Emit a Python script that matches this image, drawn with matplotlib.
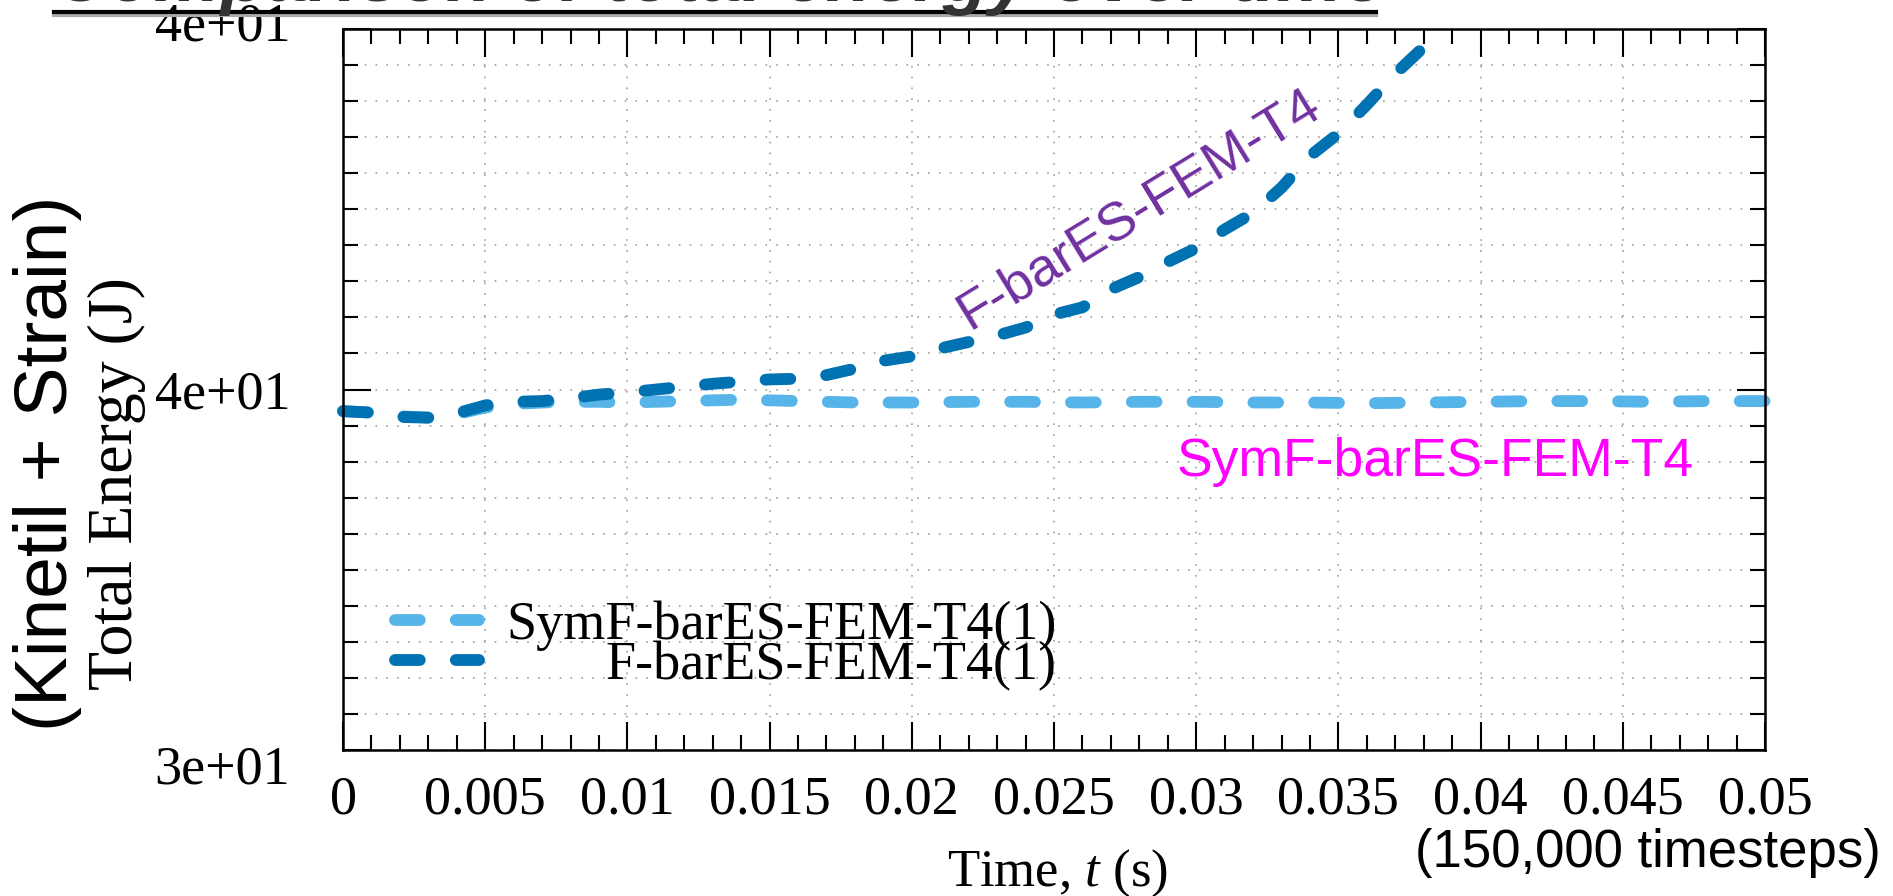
import matplotlib
matplotlib.use('Agg')
import matplotlib.pyplot as plt
import matplotlib.transforms as mtrans
from matplotlib.ticker import MultipleLocator
from matplotlib.lines import Line2D

plt.rcParams['mathtext.fontset'] = 'custom'
plt.rcParams['mathtext.rm'] = 'Liberation Serif'
plt.rcParams['mathtext.it'] = 'Liberation Serif:italic'

# data
t_sym = [0.000, 0.001, 0.002, 0.003, 0.004, 0.005, 0.006, 0.007, 0.008, 0.009,
         0.010, 0.012, 0.014, 0.016, 0.018, 0.020, 0.022, 0.024, 0.026, 0.028,
         0.030, 0.032, 0.034, 0.036, 0.038, 0.040, 0.042, 0.044, 0.046, 0.048, 0.050]
e_sym = [39.70, 39.68, 39.63, 39.61, 39.66, 39.75, 39.80, 39.82, 39.83, 39.83,
         39.82, 39.84, 39.86, 39.84, 39.82, 39.82, 39.83, 39.83, 39.82, 39.83,
         39.83, 39.82, 39.82, 39.81, 39.82, 39.83, 39.84, 39.84, 39.83, 39.84, 39.84]

t_fbar = [0.000, 0.001, 0.002, 0.003, 0.004, 0.005, 0.006, 0.007, 0.008, 0.009,
          0.010, 0.011, 0.012, 0.013, 0.014, 0.015, 0.016, 0.017, 0.018, 0.019,
          0.020, 0.021, 0.022, 0.023, 0.024, 0.025, 0.026, 0.027, 0.028, 0.029,
          0.030, 0.031, 0.032, 0.033, 0.034, 0.035, 0.036, 0.037, 0.038]
e_fbar = [39.70, 39.68, 39.62, 39.61, 39.67, 39.78, 39.83, 39.84, 39.88, 39.93,
          39.96, 40.00, 40.04, 40.08, 40.11, 40.14, 40.15, 40.20, 40.29, 40.40,
          40.46, 40.57, 40.66, 40.75, 40.86, 41.04, 41.14, 41.39, 41.56, 41.77,
          41.96, 42.22, 42.45, 42.80, 43.24, 43.55, 43.95, 44.38, 44.75]

x_ticks = [0, 0.005, 0.01, 0.015, 0.02, 0.025, 0.03, 0.035, 0.04, 0.045, 0.05]
x_tick_labels = ['0', '0.005', '0.01', '0.015', '0.02', '0.025', '0.03',
                 '0.035', '0.04', '0.045', '0.05']
y_ticks = [35, 40, 45]
y_tick_labels = ['3e+01', '4e+01', '4e+01']

labels = ['SymF-barES-FEM-T4(1)', 'F-barES-FEM-T4(1)']
colors = ['#56B4E9', '#0072B2']

serif = 'Liberation Serif'
sans = 'Liberation Sans'

fig = plt.figure(figsize=(18.93, 8.96), dpi=100)
ax = fig.add_axes([0.1812, 0.1629, 0.7512, 0.8047])

dash = (0, (2.1, 3.05))
ax.plot(t_sym, e_sym, color=colors[0], lw=8.5, linestyle=dash,
        dash_capstyle='round', label=labels[0], clip_on=False, zorder=3)
ax.plot(t_fbar, e_fbar, color=colors[1], lw=8.5, linestyle=dash,
        dash_capstyle='round', label=labels[1], clip_on=False, zorder=4)

ax.set_xlim(0, 0.05)
ax.set_ylim(35, 45)
ax.set_xticks(x_ticks)
ax.set_xticklabels(x_tick_labels, family=serif, fontsize=39)
ax.set_yticks(y_ticks)
ax.set_yticklabels(y_tick_labels, family=serif, fontsize=39)
ax.xaxis.set_minor_locator(MultipleLocator(0.001))
ax.yaxis.set_minor_locator(MultipleLocator(0.5))
ax.tick_params(which='both', direction='in', top=True, right=True, width=1.5, color='black')
ax.tick_params(which='major', length=20)
ax.tick_params(which='minor', length=11)
ax.tick_params(axis='x', which='major', pad=18)
ax.tick_params(axis='y', which='major', pad=38)
for s in ax.spines.values():
    s.set_linewidth(1.8)
    s.set_zorder(5)
# end labels sit a little outside the axis ends, like in the original
ylab = ax.get_yticklabels()
ylab[0].set_transform(ylab[0].get_transform() + mtrans.Affine2D().translate(0, -14))
ylab[-1].set_transform(ylab[-1].get_transform() + mtrans.Affine2D().translate(0, 8))

gstyle = dict(color='#a0a0a0', lw=1.2, linestyle=(0, (1, 5.5)))
ax.yaxis.grid(True, which='both', **gstyle)
ax.xaxis.grid(True, which='major', **gstyle)
ax.set_axisbelow(True)

ax.text(0.0280, 42.50, 'F-barES-FEM-T4', color='#7030A0', family=sans, fontsize=39,
        rotation=31.5, rotation_mode='anchor', ha='center', va='center')
ax.text(0.0384, 39.0, 'SymF-barES-FEM-T4', color='#FF00FF', family=sans, fontsize=38.5,
        ha='center', va='center')

leg = ax.legend(loc='center left', bbox_to_anchor=(0.0366, 0.145), frameon=False,
                prop={'family': serif, 'size': 39}, handlelength=1.55, handletextpad=0.5,
                labelspacing=-0.19, borderpad=0, borderaxespad=0)

fig.text(0.5584, 1 - 886 / 896, r'Time, $t$ (s)', family=serif, fontsize=38,
         ha='center', va='baseline')
fig.text(0.9937, 1 - 853 / 896, '(150,000 timesteps)', family=sans, fontsize=38,
         ha='right', va='center')
fig.text(117 / 1893, 1 - 484 / 896, 'Total Energy (J)', family=serif, fontsize=46,
         rotation=90, ha='center', va='center')
fig.text(48 / 1893, 1 - 463 / 896, '(Kinetil + Strain)', family=sans, fontsize=54,
         rotation=90, ha='center', va='center')

# title, mostly cut off at the top edge
fig.text(0.0285, 1 - 1 / 896, 'Comparison of total energy over time', family=sans,
         fontsize=54, weight='bold', style='italic', color='#333333',
         ha='left', va='baseline')
fig.add_artist(Line2D([0.0285, 0.727], [1 - 15 / 896, 1 - 15 / 896], color='#aaaaaa',
                      lw=3, transform=fig.transFigure))
fig.add_artist(Line2D([0.0285, 0.727], [1 - 12 / 896, 1 - 12 / 896], color='black',
                      lw=3, transform=fig.transFigure))

# right-align legend labels
fig.canvas.draw()
texts = leg.get_texts()
widths = [t.get_window_extent().width for t in texts]
for t, w in zip(texts, widths):
    t.set_position((max(widths) - w, 0))

fig.savefig('out.png', dpi=100)
